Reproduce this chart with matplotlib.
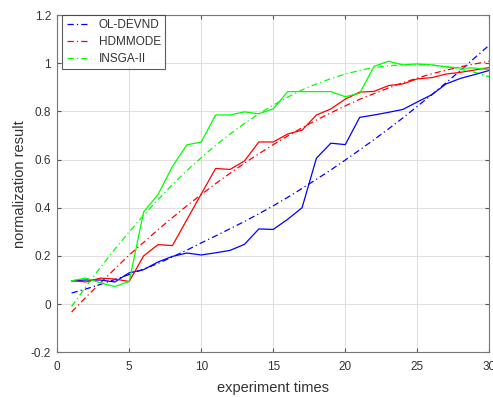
import numpy as np
import matplotlib
matplotlib.use("Agg")
import matplotlib.pyplot as plt

plt.rcParams["font.family"] = ["Liberation Sans", "DejaVu Sans"]

# experiment index
runs = list(range(1, 31))

# measured curves (solid)
ol_devnd = [0.097, 0.100, 0.100, 0.092, 0.130, 0.143, 0.175, 0.198, 0.212, 0.204,
            0.213, 0.223, 0.248, 0.312, 0.310, 0.352, 0.400, 0.606, 0.668, 0.662,
            0.775, 0.785, 0.796, 0.808, 0.839, 0.869, 0.914, 0.937, 0.953, 0.970]
hdmmode = [0.097, 0.092, 0.108, 0.104, 0.094, 0.200, 0.247, 0.243, 0.350, 0.457,
           0.563, 0.559, 0.594, 0.673, 0.673, 0.706, 0.722, 0.785, 0.810, 0.851,
           0.880, 0.883, 0.907, 0.914, 0.935, 0.940, 0.955, 0.962, 0.972, 0.982]
insga2 = [0.097, 0.108, 0.088, 0.073, 0.094, 0.382, 0.455, 0.571, 0.661, 0.673,
          0.785, 0.785, 0.798, 0.790, 0.810, 0.882, 0.882, 0.882, 0.882, 0.861,
          0.875, 0.987, 1.008, 0.993, 0.997, 0.993, 0.985, 0.980, 0.980, 0.973]

# fitted trend curves (dash-dot)
ol_devnd_fit = [0.046, 0.063, 0.082, 0.102, 0.123, 0.145, 0.169, 0.196, 0.224, 0.254,
                0.283, 0.313, 0.343, 0.375, 0.408, 0.443, 0.480, 0.518, 0.557, 0.598,
                0.640, 0.683, 0.727, 0.773, 0.821, 0.869, 0.919, 0.970, 1.023, 1.075]
hdmmode_fit = [-0.033, 0.029, 0.088, 0.146, 0.204, 0.256, 0.309, 0.359, 0.408, 0.455,
               0.500, 0.543, 0.585, 0.624, 0.662, 0.698, 0.732, 0.764, 0.794, 0.823,
               0.850, 0.874, 0.897, 0.919, 0.938, 0.956, 0.971, 0.985, 0.997, 1.008]
insga2_fit = [-0.010, 0.073, 0.152, 0.228, 0.300, 0.369, 0.434, 0.496, 0.554, 0.608,
              0.659, 0.706, 0.750, 0.790, 0.826, 0.859, 0.889, 0.914, 0.936, 0.955,
              0.970, 0.982, 0.989, 0.994, 0.994, 0.992, 0.985, 0.975, 0.962, 0.944]

fig = plt.figure(figsize=(4.93, 3.97), dpi=100)
ax = fig.add_axes([0.116, 0.1126, 0.8765, 0.8496])

lw = 0.9
dashdot = (0, (5, 2.5, 1, 2.5))
ax.plot(runs, ol_devnd_fit, color="#0000ff", ls=dashdot, lw=lw, label="OL-DEVND")
ax.plot(runs, hdmmode_fit, color="#ff0000", ls=dashdot, lw=lw, label="HDMMODE")
ax.plot(runs, insga2_fit, color="#00ff00", ls=dashdot, lw=lw, label="INSGA-II")
ax.plot(runs, ol_devnd, color="#0000ff", lw=lw)
ax.plot(runs, hdmmode, color="#ff0000", lw=lw)
ax.plot(runs, insga2, color="#00ff00", lw=lw)

ax.set_xlim(0, 30)
ax.set_ylim(-0.2, 1.2)
ax.set_xticks([0, 5, 10, 15, 20, 25, 30])
ax.set_yticks([-0.2, 0, 0.2, 0.4, 0.6, 0.8, 1, 1.2])
ax.set_yticklabels(["-0.2", "0", "0.2", "0.4", "0.6", "0.8", "1", "1.2"])

ax.grid(True, color="#e0e0e0", lw=0.8)
ax.set_axisbelow(True)
for s in ax.spines.values():
    s.set_color("#777777")
    s.set_linewidth(0.8)
ax.tick_params(direction="in", length=3, width=0.8, color="#555555",
               labelsize=8.5, labelcolor="#333333", top=True, right=True)
ax.tick_params(axis="x", pad=6.5)
ax.tick_params(axis="y", pad=4.5)

ax.set_xlabel("experiment times", fontsize=10.5, color="#333333", labelpad=5.5)
ax.set_ylabel("normalization result", fontsize=10.5, color="#333333", labelpad=2.5)

leg = ax.legend(loc="upper left", bbox_to_anchor=(0.012, 1.0), fontsize=8.5,
                frameon=True, fancybox=False, borderaxespad=0.0,
                handlelength=2.0, handletextpad=0.75, labelspacing=0.42,
                borderpad=0.35)
leg.get_frame().set_edgecolor("#333333")
leg.get_frame().set_linewidth(0.8)
for t in leg.get_texts():
    t.set_color("#333333")

fig.savefig("out.png", dpi=100)
